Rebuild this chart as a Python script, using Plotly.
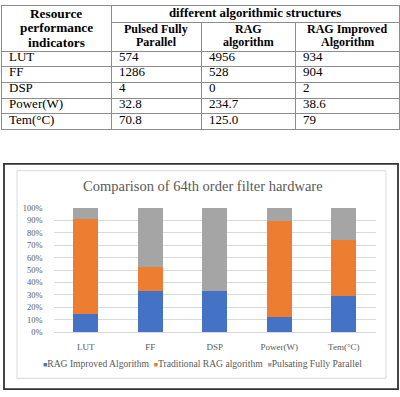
import plotly.graph_objects as go

W, H = 400, 397

# ---------------- data ----------------
# table
indicators = ["LUT", "FF", "DSP", "Power(W)", "Tem(°C)"]
pulsed_txt = ["574", "1286", "4", "32.8", "70.8"]
rag_txt = ["4956", "528", "0", "234.7", "125.0"]
improved_txt = ["934", "904", "2", "38.6", "79"]

row_header_lines = ["Resource", "performance", "indicators"]
group_header = "different algorithmic structures"
col_header_lines = [["Pulsed Fully", "Parallel"], ["RAG", "algorithm"], ["RAG Improved", "Algorithm"]]

# chart
chart_title = "Comparison of 64th order filter hardware"
categories = ["LUT", "FF", "DSP", "Power(W)", "Tem(°C)"]
series_names = ["RAG Improved Algorithm", "Traditional RAG algorithm", "Pulsating Fully Parallel"]
improved_vals = [float(v) for v in improved_txt]
rag_vals = [float(v) for v in rag_txt]
pulsed_vals = [float(v) for v in pulsed_txt]
series_vals = [improved_vals, rag_vals, pulsed_vals]
series_colors = ["#4472C4", "#ED7D31", "#A5A5A5"]
y_ticks = [0, 10, 20, 30, 40, 50, 60, 70, 80, 90, 100]
y_tick_labels = [f"{v}%" for v in y_ticks]

# ---------------- helpers ----------------
def px_x(x):
    return x / W

def px_y(y):
    return 1 - y / H

SERIF = "Liberation Serif"
LINE_C = "#8c8c8c"
CLEAR = "rgba(0,0,0,0)"

col_w = [110, 90, 94, 104]
TX0, TX1 = 1, 399
HEADER_H = 46
ROW_H = 15.7

fig = go.Figure()

# table borders
fig.add_trace(go.Table(
    domain=dict(x=[px_x(TX0), px_x(TX1)], y=[px_y(140), 1]),
    columnwidth=col_w,
    header=dict(values=[""] * 4, height=HEADER_H, fill_color="white",
                line=dict(color=LINE_C, width=1)),
    cells=dict(values=[[""] * len(indicators)] * 4, height=ROW_H, fill_color="white",
               line=dict(color=LINE_C, width=1)),
))
# group header cell (spanning 3 columns)
fig.add_trace(go.Table(
    domain=dict(x=[px_x(TX0 + col_w[0]), px_x(TX1)], y=[px_y(60), 1]),
    header=dict(values=[""], height=17, fill_color="white",
                line=dict(color=LINE_C, width=1)),
    cells=dict(values=[[]], fill_color="white", line=dict(color=LINE_C, width=1)),
))
# data text overlay
fig.add_trace(go.Table(
    domain=dict(x=[px_x(TX0), px_x(TX1)], y=[px_y(140), 1]),
    columnwidth=col_w,
    header=dict(values=[""] * 4, height=38, fill_color=CLEAR,
                line=dict(color=CLEAR, width=0),
                font=dict(family=SERIF, size=13, color="black")),
    cells=dict(values=[indicators, pulsed_txt, rag_txt, improved_txt], height=ROW_H,
               align="left", fill_color=CLEAR, line=dict(color=CLEAR, width=0),
               font=dict(family=[SERIF] * 4, size=13, color="black")),
))

annotations = []
cx1 = TX0 + col_w[0] / 2
for i, t in enumerate(row_header_lines):
    annotations.append(dict(x=px_x(cx1), y=px_y(9 + 14.5 * i), xref="paper", yref="paper",
                            text=f"<b>{t}</b>", showarrow=False, xanchor="center",
                            yanchor="middle", font=dict(family=SERIF, size=13.3, color="black")))
annotations.append(dict(x=px_x((TX0 + col_w[0] + TX1) / 2), y=px_y(8.5), xref="paper", yref="paper",
                        text=f"<b>{group_header}</b>", showarrow=False, xanchor="center",
                        yanchor="middle", font=dict(family=SERIF, size=12.8, color="black")))
left = TX0 + col_w[0]
for j, lines in enumerate(col_header_lines):
    cx = left + col_w[j + 1] / 2
    left += col_w[j + 1]
    for i, t in enumerate(lines):
        annotations.append(dict(x=px_x(cx), y=px_y(24.5 + 13.5 * i), xref="paper", yref="paper",
                                text=f"<b>{t}</b>", showarrow=False, xanchor="center",
                                yanchor="middle", font=dict(family=SERIF, size=12, color="black")))

# ---------------- chart ----------------
for name, vals, col in zip(series_names, series_vals, series_colors):
    fig.add_trace(go.Bar(x=categories, y=vals, name=name, marker=dict(color=col, line=dict(width=0)),
                         width=0.39, showlegend=False))

annotations.append(dict(x=px_x(203), y=px_y(186), xref="paper", yref="paper", text=chart_title,
                        showarrow=False, xanchor="center", yanchor="middle",
                        font=dict(family=SERIF, size=14.5, color="#595959")))

legend_parts = []
for name, col in zip(series_names, series_colors):
    legend_parts.append(f"<span style='color:{col};font-size:7px'>■</span>{name}")
annotations.append(dict(x=px_x(203), y=px_y(368), xref="paper", yref="paper",
                        text=" &nbsp;".join(legend_parts), showarrow=False, xanchor="center",
                        yanchor="middle", font=dict(family=SERIF, size=9.6, color="#595959")))

shapes = [
    dict(type="rect", xref="paper", yref="paper", x0=px_x(4), x1=px_x(398), y0=px_y(394), y1=px_y(163),
         line=dict(color="#333333", width=1.8)),
    dict(type="rect", xref="paper", yref="paper", x0=px_x(17), x1=px_x(386), y0=px_y(383), y1=px_y(170),
         line=dict(color="#D9D9D9", width=1)),
]

fig.update_layout(
    width=W, height=H, margin=dict(l=0, r=0, t=0, b=0),
    font=dict(family=SERIF, color="black"),
    paper_bgcolor="white", plot_bgcolor="white",
    barmode="stack", barnorm="percent", showlegend=False,
    annotations=annotations, shapes=shapes,
)
fig.update_xaxes(domain=[px_x(53.5), px_x(376)], range=[-0.5, 4.5], type="category",
                 showgrid=False, showline=True, linecolor="#D9D9D9", linewidth=1, ticks="",
                 ticklabelstandoff=6,
                 tickfont=dict(family=SERIF, size=9, color="#595959"))
fig.update_yaxes(domain=[px_y(335.7), px_y(208)], range=[0, 100], tickvals=y_ticks,
                 ticktext=y_tick_labels, showgrid=True, gridcolor="#D9D9D9", gridwidth=1,
                 zeroline=False, showline=False, ticks="", ticklabelstandoff=10,
                 tickfont=dict(family=SERIF, size=8.5, color="#595959"))

fig.write_html("out.html", config={"displayModeBar": False},
               post_script="document.body.style.margin='0';document.body.style.padding='0';document.body.style.overflow='hidden';")
